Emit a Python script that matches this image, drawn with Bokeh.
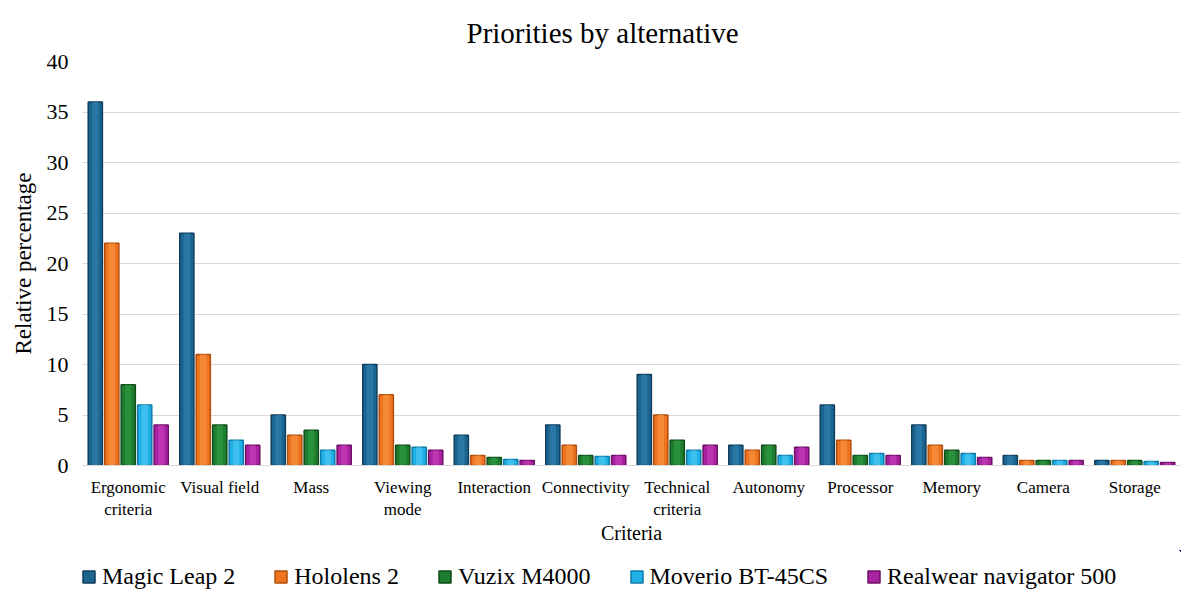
from bokeh.plotting import figure
from bokeh.models import Legend, LegendItem, ColumnDataSource, FactorRange
from bokeh.layouts import column
from bokeh.transform import dodge
from bokeh.embed import file_html
from bokeh.resources import INLINE

categories = ["Ergonomic\ncriteria", "Visual field", "Mass", "Viewing\nmode", "Interaction",
              "Connectivity", "Technical\ncriteria", "Autonomy", "Processor", "Memory",
              "Camera", "Storage"]
series_names = ["Magic Leap 2", "Hololens 2", "Vuzix M4000", "Moverio BT-45CS", "Realwear navigator 500"]
magic_leap = [36, 23, 5, 10, 3, 4, 9, 2, 6, 4, 1, 0.5]
hololens = [22, 11, 3, 7, 1, 2, 5, 1.5, 2.5, 2, 0.5, 0.5]
vuzix = [8, 4, 3.5, 2, 0.8, 1, 2.5, 2, 1, 1.5, 0.5, 0.5]
moverio = [6, 2.5, 1.5, 1.8, 0.6, 0.9, 1.5, 1, 1.2, 1.2, 0.5, 0.4]
realwear = [4, 2, 2, 1.5, 0.5, 1, 2, 1.8, 1, 0.8, 0.5, 0.3]
y_ticks = [0, 5, 10, 15, 20, 25, 30, 35, 40]

base_colors = ["#1d6591", "#ee7420", "#1f7d2f", "#1fb0e6", "#a9229f"]
dark_colors = ["#0f3d5c", "#b04d0c", "#0f4d1a", "#0f7aa8", "#6d0f66"]
light_colors = ["#2f7fae", "#f8913f", "#2e9a42", "#4cc7f2", "#c53cbb"]

FONT = "Liberation Serif"

src = ColumnDataSource(dict(cat=categories, s0=magic_leap, s1=hololens, s2=vuzix, s3=moverio, s4=realwear))

p = figure(x_range=FactorRange(*categories), y_range=(0, 40),
           frame_width=1098, frame_height=404,
           output_backend="svg", toolbar_location=None, title="Priorities by alternative",
           min_border_left=82, min_border_right=11, min_border_top=61, min_border_bottom=85)

p.title.align = "left"
p.title.offset = 384
p.title.standoff = 26
p.title.text_font = FONT
p.title.text_font_size = "29px"
p.title.text_font_style = "normal"
p.title.text_color = "black"

offsets = [-0.36, -0.18, 0.0, 0.18, 0.36]
for i, name in enumerate(series_names):
    col = "s%d" % i
    p.vbar(x=dodge("cat", offsets[i], range=p.x_range), top=col, width=0.155, source=src,
           fill_color=base_colors[i], line_color=dark_colors[i], line_width=1.5)
    p.vbar(x=dodge("cat", offsets[i], range=p.x_range), top=col, width=0.07, source=src,
           fill_color=light_colors[i], line_color=None, fill_alpha=0.7)

p.yaxis.ticker = y_ticks
p.yaxis.axis_line_color = None
p.yaxis.major_tick_line_color = None
p.yaxis.minor_tick_line_color = None
p.yaxis.major_label_text_font = FONT
p.yaxis.major_label_text_font_size = "22px"
p.yaxis.major_label_text_color = "black"
p.yaxis.major_label_standoff = 8
p.yaxis.axis_label = "Relative percentage"
p.yaxis.axis_label_text_font = FONT
p.yaxis.axis_label_text_font_size = "23px"
p.yaxis.axis_label_text_font_style = "normal"
p.yaxis.axis_label_text_color = "black"
p.yaxis.axis_label_standoff = 8

p.xaxis.axis_line_color = "#d9d9d9"
p.xaxis.major_tick_line_color = None
p.xaxis.minor_tick_line_color = None
p.xaxis.major_label_text_font = FONT
p.xaxis.major_label_text_font_size = "17px"
p.xaxis.major_label_text_color = "black"
p.xaxis.major_label_standoff = 6
p.xaxis.axis_label = "Criteria"
p.xaxis.axis_label_text_font = FONT
p.xaxis.axis_label_text_font_size = "20px"
p.xaxis.axis_label_text_font_style = "normal"
p.xaxis.axis_label_text_color = "black"
p.xaxis.axis_label_standoff = 0

p.xgrid.grid_line_color = None
p.ygrid.grid_line_color = "#d9d9d9"
p.outline_line_color = None

# Legend strip as its own small figure (its proxy bars are shifted far off-canvas)
lg = figure(width=1191, height=44, x_range=FactorRange(*categories), y_range=(-1000, -999),
            output_backend="svg", toolbar_location=None,
            x_axis_type=None, y_axis_type=None,
            min_border_left=0, min_border_right=0, min_border_top=0, min_border_bottom=0)
lg.outline_line_color = None
lg.xgrid.grid_line_color = None
lg.ygrid.grid_line_color = None
items = []
for i, name in enumerate(series_names):
    r = lg.vbar(x=dodge("cat", 60, range=lg.x_range), top="s%d" % i, bottom=0, width=0.1, source=src,
                fill_color=base_colors[i], line_color=dark_colors[i], line_width=1.5)
    items.append(LegendItem(label=name, renderers=[r], index=0))

legend = Legend(items=items, orientation="horizontal", location=(-1, 4))
legend.label_text_font = FONT
legend.label_text_font_size = "24px"
legend.label_text_color = "black"
legend.glyph_width = 15
legend.glyph_height = 15
legend.spacing = 38
legend.label_standoff = 6
legend.border_line_color = None
legend.background_fill_alpha = 0
legend.padding = 0
legend.margin = 0
lg.add_layout(legend, "center")

layout = column(p, lg, spacing=0)
open("out.html", "w").write(file_html(layout, INLINE))
